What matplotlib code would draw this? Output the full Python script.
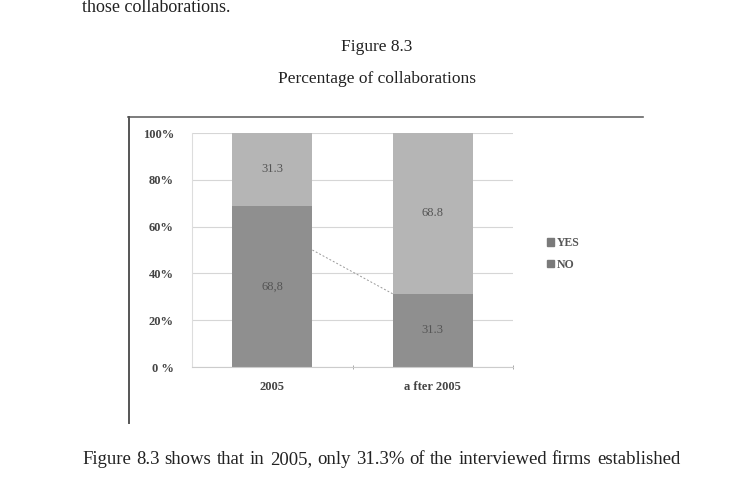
import matplotlib
matplotlib.use("Agg")
import matplotlib.pyplot as plt
import numpy as np

# chart data
categories = ["2005", "a fter 2005"]
no_values = [68.8, 31.3]
yes_values = [31.3, 68.8]
yticks = [0, 20, 40, 60, 80, 100]
# dashed series line as it appears between the bars
series_line = [50.0, 31.3]

yes_color = "#b5b5b5"
no_color = "#8f8f8f"
serif = ["Liberation Serif", "DejaVu Serif"]

W, H = 729, 500
fig = plt.figure(figsize=(W / 100, H / 100), dpi=100)
fig.patch.set_facecolor("white")


def px(x, y):
    return x / W, 1 - y / H


# page text
fig.text(*px(82, 7), "those collaborations.", family=serif, fontsize=13,
         ha="left", va="center", color="#222222")
fig.text(*px(377, 47), "Figure 8.3", family=serif, fontsize=12.5,
         ha="center", va="center", color="#222222")
fig.text(*px(377, 79), "Percentage of collaborations", family=serif, fontsize=12.5,
         ha="center", va="center", color="#222222")

# chart frame (top and left only visible in the scan)
fig.add_artist(plt.Line2D([128 / W, 643 / W], [1 - 117 / H] * 2,
                          color="#666666", lw=1.2, transform=fig.transFigure))
fig.add_artist(plt.Line2D([129 / W] * 2, [1 - 117 / H, 1 - 423 / H],
                          color="#555555", lw=1.4, transform=fig.transFigure))

# plot area
ax = fig.add_axes([192 / W, 1 - 367 / H, 321 / W, 234 / H])
x = np.arange(len(categories))
width = 0.5
ax.bar(x, no_values, width, color=no_color, label="NO", zorder=2)
ax.bar(x, yes_values, width, bottom=no_values, color=yes_color, label="YES", zorder=2)

for i in range(len(categories)):
    no_txt = f"{no_values[i]}".replace(".", ",") if i == 0 else f"{no_values[i]}"
    ax.text(x[i], no_values[i] / 2, no_txt, ha="center", va="center",
            family=serif, fontsize=9, color="#555555", zorder=3)
    ax.text(x[i], no_values[i] + yes_values[i] / 2, f"{yes_values[i]}",
            ha="center", va="center", family=serif, fontsize=9,
            color="#555555", zorder=3)

ax.plot([x[0] + width / 2, x[1] - width / 2], series_line, ls=(0, (2, 2)),
        color="#9a9a9a", lw=0.7, zorder=1)

ax.set_xlim(-0.5, 1.5)
ax.set_ylim(0, 100)
ax.set_yticks(yticks)
ax.set_yticklabels([f"{v}%" if v else "0 %" for v in yticks])
ax.set_xticks(x)
ax.set_xticklabels(categories)
ax.set_xticks([0.5, 1.5], minor=True)
ax.tick_params(axis="x", which="major", length=0, pad=10)
ax.tick_params(axis="x", which="minor", length=3, direction="inout", color="#999999")
ax.tick_params(axis="y", length=0, pad=13)
for lab in ax.get_xticklabels() + ax.get_yticklabels():
    lab.set_family(serif)
    lab.set_fontsize(9)
    lab.set_fontweight("bold")
    lab.set_color("#444444")

ax.yaxis.grid(True, color="#d6d6d6", lw=0.8, zorder=0)
ax.set_axisbelow(True)
for side in ["top", "right"]:
    ax.spines[side].set_visible(False)
ax.spines["left"].set_color("#dddddd")
ax.spines["bottom"].set_color("#cccccc")

# legend
handles, labels = ax.get_legend_handles_labels()
leg = fig.legend(handles[::-1], labels[::-1], loc="center left",
                 bbox_to_anchor=(536 / W, 1 - 254 / H), frameon=False,
                 prop={"family": serif, "size": 8.5, "weight": "bold"},
                 handlelength=0.6, handleheight=0.6, handletextpad=0.25,
                 labelspacing=0.8, labelcolor="#555555")
for h in leg.legend_handles:
    h.set_color("#7a7a7a")

# body text, justified between two margins
body = "Figure 8.3 shows that in 2005, only 31.3% of the interviewed firms established"
words = body.split()
left, right, base = 82, 680, 460
renderer = fig.canvas.get_renderer()
widths = []
for w in words:
    t = fig.text(0, 0, w, family=serif, fontsize=13.5)
    widths.append(t.get_window_extent(renderer).width)
    t.remove()
gap = (right - left - sum(widths)) / (len(words) - 1)
cur = left
for w, wd in zip(words, widths):
    fig.text(*px(cur, base), w, family=serif, fontsize=13.5, ha="left",
             va="center", color="#222222")
    cur += wd + gap

fig.savefig("out.png", dpi=100)
